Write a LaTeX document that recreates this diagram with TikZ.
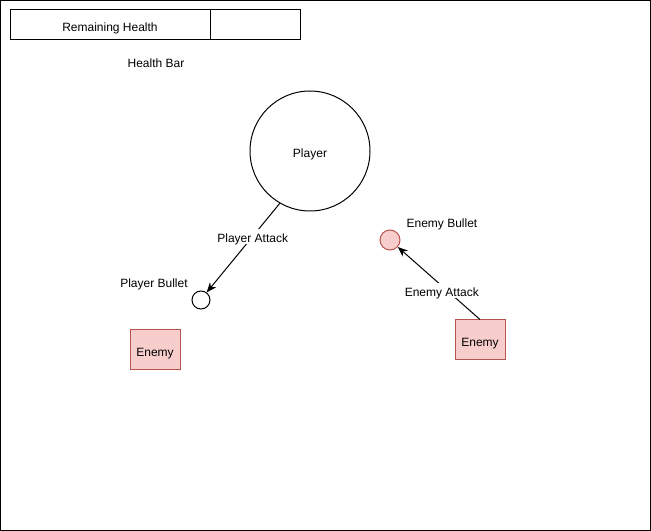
\documentclass[tikz,border=0pt]{standalone}
\usepackage{fontspec}
\setmainfont{Liberation Sans}
\usetikzlibrary{arrows.meta}
\definecolor{redfill}{HTML}{F8CECC}
\definecolor{redline}{HTML}{B85450}
\begin{document}
\begin{tikzpicture}[x=0.75pt,y=-0.75pt,
  every node/.style={font=\fontsize{9}{11}\selectfont,text height=9.6pt,text depth=0pt},
  box/.style={draw=black,line width=0.75pt,minimum width=#1*0.75pt,minimum height=30*0.75pt,inner sep=0pt},
  enemybox/.style={draw=redline,fill=redfill,line width=0.75pt,minimum width=50*0.75pt,minimum height=40*0.75pt,inner sep=0pt},
  conn/.style={line width=0.75pt,-{Stealth[length=7.5pt,width=6pt]}},
  lbl/.style={fill=white,inner sep=1pt}]
\useasboundingbox (0,0) rectangle (651,531);
\node[draw=black,line width=0.75pt,minimum width=649.5*0.75pt,minimum height=529.5*0.75pt,inner sep=0pt] (frame) at (325.5,265.5) {};
% health bar
\node[box=200] (remain) at (110,25) {Remaining Health};
\node[box=90] (rest) at (255,25) {};
\node (hbar) at (156,61) {Health Bar};
% player
\node[draw=black,circle,line width=0.75pt,minimum size=120*0.75pt,inner sep=0pt] (player) at (310,151) {Player};
\node[draw=black,circle,line width=0.75pt,minimum size=18*0.75pt,inner sep=0pt] (pbullet) at (201,300) {};
\node (pbtext) at (154,281) {Player Bullet};
% enemies
\node[enemybox] (enemy1) at (155,350) {Enemy};
\node[enemybox] (enemy2) at (480,340) {Enemy};
\node[draw=redline,fill=redfill,circle,line width=0.75pt,minimum size=20*0.75pt,inner sep=0pt] (ebullet) at (390,240) {};
\node (ebtext) at (442,221) {Enemy Bullet};
% connectors
\draw[conn] (player.240) -- node[lbl,pos=0.37] {Player Attack} (pbullet.53);
\draw[conn] (enemy2.north) -- node[lbl,pos=0.4,xshift=-4pt] {Enemy Attack} (ebullet.318);
\end{tikzpicture}
\end{document}
